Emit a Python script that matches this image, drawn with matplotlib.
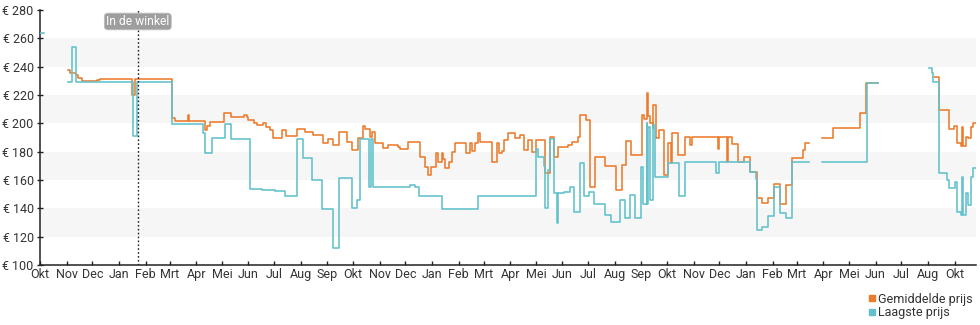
import numpy as np
import matplotlib
matplotlib.use("Agg")
import matplotlib.pyplot as plt
import matplotlib.transforms as mtransforms
from matplotlib.lines import Line2D

plt.rcParams['font.family'] = ['Roboto', 'DejaVu Sans']

# ── Data ───────────────────────────────────────────────────────────────
START = np.datetime64('2018-10-01')
END_DAY = 1091

MONTH_LABELS = (['Okt', 'Nov', 'Dec', 'Jan', 'Feb', 'Mrt', 'Apr', 'Mei',
                 'Jun', 'Jul', 'Aug', 'Sep'] * 2 +
                ['Okt', 'Nov', 'Dec', 'Jan', 'Feb', 'Mrt', 'Apr', 'Mei',
                 'Jun', 'Jul', 'Aug', 'Okt'])

EVENT_DAY = 114
EVENT_LABEL = "In de winkel"

nan = np.nan

# Laagste prijs: day offset from START, price (step, held until next day)
low_day = [0, 5, 33, 37, 42, 108, 113, 154, 190, 192,
           201, 216, 223, 245, 259, 274, 286, 300, 306, 317,
           329, 342, 348, 364, 370, 373, 383, 386, 388, 431,
           437, 442, 469, 510, 578, 581, 587, 589, 592, 595,
           599, 603, 604, 611, 618, 623, 630, 634, 640, 646,
           658, 665, 676, 682, 688, 694, 701, 703, 707, 708,
           709, 711, 714, 717, 732, 745, 752, 788, 791, 827,
           834, 836, 842, 849, 855, 862, 869, 877, 896, 912,
           964, 977, 1036, 1040, 1041, 1048, 1057, 1060, 1066, 1069,
           1074, 1075, 1076, 1079, 1082, 1085, 1087, 1088, 1091]
low_val = [264, nan, 229, 254, 229, 191, 229.5, 199.5, 193, 179.3,
           190, 199.3, 188.7, 154, 153, 152, 148.7, 188.7, 175.8, 160,
           139.3, 112.2, 161.2, 140, 146, 188.7, 154.9, 188.7, 154.9, 156.5,
           154.9, 148.7, 139.3, 148.7, 181.6, 176.4, 169.9, 140, 167, 188.7,
           150.6, 129.4, 150.6, 151.3, 155, 137.6, 172.2, 148.7, 151.7, 143,
           135.3, 130.6, 145.9, 132.9, 149.4, 132.9, 169, 143, 200, 143,
           197.6, 145.9, 199, 162.4, 172.2, 148.7, 173, 165.2, 173, 165.9,
           160.5, 124.7, 126.6, 134.6, 155.3, 137, 133.4, 173, nan, 172.5,
           228.7, nan, 238.8, 235.3, 229.5, 164.7, 160, 154.1, 158.8, 137.6,
           135.3, 162.4, 135.3, 150.6, 142.4, 162.4, 164, 168.2, 168.2]

# Gemiddelde prijs
avg_day = [33, 35, 42, 44, 49, 66, 70, 107, 111, 154,
           157, 173, 174, 192, 195, 198, 215, 223, 238, 241,
           243, 250, 253, 260, 264, 268, 272, 282, 287, 300,
           309, 318, 330, 336, 341, 349, 358, 364, 371, 376,
           379, 385, 387, 391, 400, 406, 417, 420, 429, 443,
           449, 452, 456, 461, 464, 468, 470, 472, 477, 480,
           484, 496, 501, 504, 507, 511, 513, 527, 533, 535,
           539, 541, 546, 554, 560, 564, 569, 574, 578, 589,
           594, 599, 604, 616, 620, 627, 630, 636, 641, 647,
           659, 671, 678, 683, 689, 702, 704, 707, 708, 709,
           711, 714, 715, 718, 721, 727, 732, 735, 737, 744,
           752, 758, 760, 790, 792, 801, 802, 807, 814, 820,
           827, 836, 842, 848, 855, 863, 869, 876, 889, 892,
           896, 912, 924, 956, 963, 977, 1041, 1048, 1059, 1060,
           1065, 1069, 1074, 1075, 1076, 1079, 1082, 1085, 1088, 1091]
avg_val = [237.6, 235.3, 234, 231.8, 230.1, 230.8, 231, 220, 231, 203.5,
           201.9, 206, 201.9, 195.3, 198, 201.2, 207.5, 204.7, 206, 204.7,
           202.4, 200.5, 198.8, 200, 197.5, 195.3, 189.4, 195.3, 191, 195.8,
           194.1, 191.8, 185.9, 189, 184.7, 194, 187, 181.2, 189.4, 198.1,
           195.8, 190.6, 194, 185.9, 182.4, 184.7, 183, 181.6, 187, 176.4,
           169.4, 163.5, 169.4, 179.3, 173, 179, 175, 168.2, 173, 180,
           185.9, 179.3, 185.9, 180.4, 186, 193, 187, 173, 185.9, 179.3,
           180.4, 188.2, 193, 189.4, 191.8, 181.2, 188.2, 180, 188.2, 164.7,
           190.1, 176.4, 183.1, 184.5, 187, 190.6, 205.9, 202.4, 155.3, 176.4,
           169.9, 152.9, 170.6, 187.7, 177.6, 205.9, 203, 216, 221.2, 205,
           200, 197, 212.9, 190, 195.3, 163.5, 185.9, 172, 193.4, 177.6,
           190.6, 184.7, 190.6, 181.6, 190.6, 173, 190.6, 185.4, 173, 176,
           165.9, 147.1, 143.5, 147.1, 157.2, 142.8, 156.5, 175.3, 181.2, 185.9,
           nan, 189.4, 196.5, 207.5, 228.7, nan, 232.5, 209.4, 205.9, 195.8,
           198.1, 185.9, 184, 197.6, 184, 190.6, 189.5, 197.6, 200, 200]

Y_TICKS = list(range(100, 281, 20))
BANDS = [(120, 140), (160, 180), (200, 220), (240, 260)]

ORANGE = '#ec7b2a'
TEAL = '#62c1cc'
TEXT = '#333333'


def to_dates(days):
    return START + np.array(days, dtype='timedelta64[D]')


# ── Plot ───────────────────────────────────────────────────────────────
fig = plt.figure(figsize=(9.8, 3.25), dpi=100)
ax = fig.add_axes([40 / 980, 1 - 265 / 325, 936 / 980, 255 / 325])

for lo, hi in BANDS:
    ax.axhspan(lo, hi, color='#f6f6f6', zorder=0, lw=0)

ax.step(to_dates(avg_day), avg_val, where='post', color=ORANGE, lw=1.15,
        zorder=2)
ax.step(to_dates(low_day), low_val, where='post', color=TEAL, lw=1.15,
        zorder=3)

ev = to_dates([EVENT_DAY])[0]
ax.axvline(ev, color='#222222', lw=1, ls=(0, (1.2, 1.6)), zorder=4)
trans = mtransforms.blended_transform_factory(ax.transData, ax.transAxes)
ax.text(ev, 0.955, EVENT_LABEL, transform=trans, ha='center', va='center',
        fontsize=8.7, color='white', zorder=5,
        bbox=dict(boxstyle='round,pad=0.15,rounding_size=0.3',
                  fc='#9e9e9e', ec='#bdbdbd', lw=0.6))

months = np.arange(np.datetime64('2018-10'), np.datetime64('2021-10'),
                   dtype='datetime64[M]').astype('datetime64[D]')
ax.set_xticks(months)
ax.set_xticklabels(MONTH_LABELS)
ax.set_xlim(START, to_dates([END_DAY])[0])

ax.set_ylim(100, 280)
ax.set_yticks(Y_TICKS)
ax.set_yticklabels([f"€ {v}" for v in Y_TICKS])

for side in ('top', 'right'):
    ax.spines[side].set_visible(False)
for side in ('left', 'bottom'):
    ax.spines[side].set_color('#222222')
    ax.spines[side].set_linewidth(1.1)

ax.tick_params(axis='x', direction='in', length=3, width=1, pad=2,
               labelsize=9, labelcolor=TEXT, color='#222222')
ax.tick_params(axis='y', direction='inout', length=5, width=1, pad=2,
               labelsize=9, labelcolor=TEXT, color='#222222')

handles = [Line2D([], [], ls='none', marker='s', ms=5, color=ORANGE),
           Line2D([], [], ls='none', marker='s', ms=5, color=TEAL)]
fig.legend(handles, ['Gemiddelde prijs', 'Laagste prijs'],
           loc='upper right', bbox_to_anchor=(1.0, 0.122), frameon=False,
           fontsize=9, handlelength=0.6, handletextpad=0.2,
           labelspacing=0.05, borderpad=0.1, labelcolor=TEXT)

fig.savefig('out.png', dpi=100)
